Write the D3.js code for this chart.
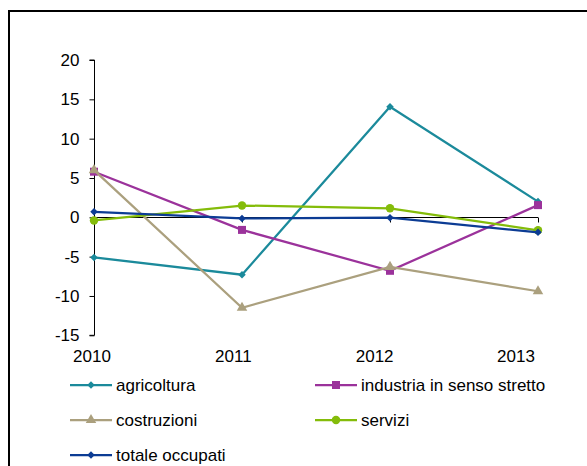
<!DOCTYPE html>
<html>
<head>
<meta charset="utf-8">
<script src="https://cdn.jsdelivr.net/npm/d3@7"></script>
<style>
  html, body { margin: 0; padding: 0; background: #fff; }
  svg { display: block; font-family: "Liberation Sans", Arial, sans-serif; }
</style>
</head>
<body>
<svg id="chart" width="587" height="466"></svg>
<script>
// Yearly change in employment by sector (%)
const years = ["2010", "2011", "2012", "2013"];
const agricoltura = [-5.1, -7.3, 14.05, 2.0];
const industria = [5.8, -1.6, -6.8, 1.55];
const costruzioni = [6.0, -11.5, -6.3, -9.4];
const servizi = [-0.4, 1.5, 1.15, -1.65];
const totale = [0.7, -0.15, -0.05, -1.9];
const yTicks = [20, 15, 10, 5, 0, -5, -10, -15];

const series = [
  { name: "agricoltura", values: agricoltura, color: "#1b8a9b", marker: "diamond" },
  { name: "industria in senso stretto", values: industria, color: "#9b329b", marker: "square" },
  { name: "costruzioni", values: costruzioni, color: "#aba07e", marker: "triangle" },
  { name: "servizi", values: servizi, color: "#84bc0a", marker: "circle" },
  { name: "totale occupati", values: totale, color: "#0c3c94", marker: "diamond" }
];

const svg = d3.select("#chart");

// outer frame (top and left edges visible)
svg.append("path")
  .attr("d", "M9,466V11H587")
  .attr("fill", "none")
  .attr("stroke", "#000")
  .attr("stroke-width", 2);

const x = d3.scalePoint().domain(years).range([94, 538]);
const xLabel = d3.scalePoint().domain(years).range([92, 516]);
const y = d3.scaleLinear().domain([-15, 20]).range([335.3, 60]);

// y axis (plain hyphen for negative numbers)
const yAxis = svg.append("g").attr("transform", "translate(94.5,0)")
  .call(d3.axisLeft(y).tickValues(yTicks).tickSize(5).tickPadding(10).tickFormat(d => String(d)));
yAxis.select(".domain").attr("stroke", "#000").attr("d", `M-5,${y(20)}H0V${y(-15)}H-5`);
yAxis.selectAll(".tick line").attr("stroke", "#000");
yAxis.selectAll(".tick text").attr("font-size", 17).attr("fill", "#000")
  .attr("font-family", "Liberation Sans, Arial, sans-serif");

// category axis along zero
const zeroY = Math.round(y(0)) + 0.5;
svg.append("line")
  .attr("x1", x(years[0])).attr("x2", x(years[years.length - 1]))
  .attr("y1", zeroY).attr("y2", zeroY)
  .attr("stroke", "#000").attr("stroke-width", 1);
svg.selectAll(".xtick").data(years).join("line")
  .attr("class", "xtick")
  .attr("x1", d => x(d) + 0.5).attr("x2", d => x(d) + 0.5)
  .attr("y1", zeroY).attr("y2", zeroY + 5)
  .attr("stroke", "#000");

// category labels at the bottom
svg.selectAll(".xlabel").data(years).join("text")
  .attr("class", "xlabel")
  .attr("x", d => xLabel(d))
  .attr("y", 362)
  .attr("text-anchor", "middle")
  .attr("font-size", 17)
  .attr("fill", "#000")
  .text(d => d);

const symbolFor = {
  diamond: d3.symbol().type(d3.symbolDiamond2).size(36),
  square: d3.symbol().type(d3.symbolSquare).size(64),
  triangle: d3.symbol().type(d3.symbolTriangle).size(48),
  circle: d3.symbol().type(d3.symbolCircle).size(56)
};

const line = d3.line().x((d, i) => x(years[i])).y(d => y(d));

series.forEach(s => {
  const g = svg.append("g");
  g.append("path")
    .attr("d", line(s.values))
    .attr("fill", "none")
    .attr("stroke", s.color)
    .attr("stroke-width", 2.25);
  g.selectAll("path.mk").data(s.values).join("path")
    .attr("class", "mk")
    .attr("d", symbolFor[s.marker])
    .attr("transform", (d, i) => `translate(${x(years[i])},${y(d)})`)
    .attr("fill", s.color);
});

// legend
const legendPos = [
  { lx: 70, ly: 385 }, { lx: 315, ly: 385 },
  { lx: 70, ly: 420 }, { lx: 315, ly: 420 },
  { lx: 70, ly: 455 }
];
series.forEach((s, i) => {
  const p = legendPos[i];
  const g = svg.append("g").attr("transform", `translate(${p.lx},${p.ly})`);
  g.append("line").attr("x1", 0).attr("x2", 42).attr("y1", 0).attr("y2", 0)
    .attr("stroke", s.color).attr("stroke-width", 2.25);
  g.append("path").attr("d", symbolFor[s.marker])
    .attr("transform", "translate(21,0)").attr("fill", s.color);
  g.append("text").attr("x", 46).attr("y", 0).attr("dy", "0.35em")
    .attr("font-size", 17).attr("fill", "#000").text(s.name);
});
</script>
</body>
</html>
